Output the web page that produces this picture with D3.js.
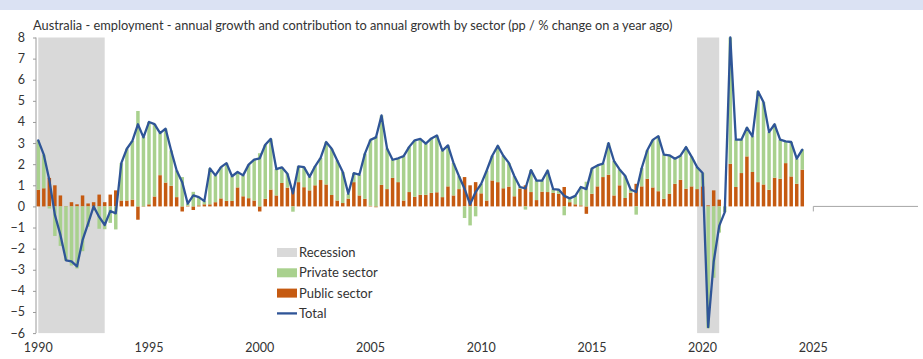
<!DOCTYPE html>
<html>
<head>
<meta charset="utf-8">
<script src="https://cdn.jsdelivr.net/npm/d3@7"></script>
<style>
  html, body { margin: 0; padding: 0; background: #ffffff; }
  svg { display: block; font-family: Lato, "Open Sans", sans-serif; }
</style>
</head>
<body>
<svg id="chart" width="923" height="359"></svg>
<script>
// Quarterly series, starting 1990Q1 (annual growth / contribution, pp)
const firstYear = 1990;
const lastAxisYear = 2029;
const xTickYears = [1990, 1995, 2000, 2005, 2010, 2015, 2020, 2025];
const yTickValues = [-6, -5, -4, -3, -2, -1, 0, 1, 2, 3, 4, 5, 6, 7, 8];

const totalGrowth = [
  3.13, 2.45, 1.25, -0.40, -1.35, -2.55, -2.60, -2.84, -1.60, -0.82,
  0.00, -0.50, -0.88, -0.22, -0.33, 2.05, 2.73, 3.10, 3.89, 3.27,
  4.00, 3.90, 3.47, 3.68, 2.65, 1.70, 1.15, 0.13, 0.52, 0.44,
  0.25, 1.80, 1.47, 1.86, 2.05, 1.43, 1.63, 1.47, 1.98, 2.22,
  2.28, 2.92, 3.20, 1.77, 1.85, 1.55, 0.62, 1.90, 1.86, 1.40,
  1.90, 2.30, 3.05, 2.73, 2.18, 1.63, 0.60, 1.58, 1.50, 2.50,
  3.15, 3.27, 4.31, 2.74, 2.21, 2.28, 2.38, 2.82, 3.13, 3.20,
  2.97, 3.22, 3.36, 2.64, 2.89, 2.06, 1.43, 0.84, 0.10, 0.68,
  1.07, 1.70, 2.40, 2.87, 2.40, 2.06, 1.43, 0.92, 0.85, 1.72,
  1.22, 1.22, 1.70, 0.82, 0.80, 0.50, 0.38, 0.50, 0.92, 0.82,
  1.80, 1.94, 2.03, 3.00, 2.15, 1.75, 1.45, 0.80, 0.68, 1.82,
  2.66, 3.15, 3.33, 2.45, 2.42, 2.26, 2.40, 2.81, 2.36, 1.86,
  1.58, -5.72, -2.62, -0.92, -0.27, 8.00, 3.16, 3.16, 3.73, 3.32,
  5.45, 4.94, 3.52, 3.89, 3.16, 3.08, 3.05, 2.26, 2.69
];

const publicSector = [
  0.79, 0.86, 1.35, 1.00, 0.52, 0.02, 0.20, 0.10, 0.52, 0.14,
  0.20, 0.56, 0.20, 0.56, 0.76, 0.28, 0.28, 0.32, -0.63, -0.02,
  0.10, 0.47, 1.48, 1.13, 0.98, 0.44, -0.24, 0.03, -0.17, 0.05,
  0.10, 0.10, 0.20, 0.38, 0.26, 0.26, 0.90, 0.48, 0.39, 0.28,
  -0.24, 0.36, 0.80, 0.52, 1.11, 0.89, 0.87, 1.15, 0.91, 0.76,
  1.00, 1.25, 1.04, 0.54, 0.28, 0.16, 0.37, 1.15, 0.52, 0.36,
  0.03, -0.04, 1.02, 0.82, 1.35, 1.15, 0.28, 0.68, 0.46, 0.55,
  0.55, 0.64, 0.67, 0.44, 0.95, 0.52, 0.82, 1.39, 1.00, 1.15,
  0.62, 0.28, 1.23, 1.15, 0.86, 0.94, 0.48, 0.84, 1.00, 0.68,
  0.30, 0.70, 0.68, 0.64, 0.60, 0.92, 0.20, 0.10, 0.05, -0.35,
  0.60, 0.95, 1.39, 1.50, 0.52, 1.00, 0.40, 0.65, 1.07, 0.95,
  1.31, 0.90, 0.72, 0.36, 0.60, 1.07, 1.26, 0.84, 0.95, 0.82,
  0.95, 0.05, 0.76, 0.32, 0.00, 2.02, 0.92, 1.58, 2.37, 1.63,
  1.15, 1.04, 0.79, 1.36, 1.31, 2.05, 1.42, 1.07, 1.74
];

const privateSector = [
  2.34, 1.59, -0.10, -1.40, -1.87, -2.57, -2.80, -2.94, -2.12, -0.96,
  -0.20, -1.06, -1.08, -0.78, -1.09, 1.77, 2.45, 2.78, 4.52, 3.29,
  3.90, 3.43, 1.99, 2.55, 1.67, 1.26, 1.39, 0.10, 0.69, 0.39,
  0.15, 1.70, 1.27, 1.48, 1.79, 1.17, 0.73, 0.99, 1.59, 1.94,
  2.52, 2.56, 2.40, 1.25, 0.74, 0.66, -0.25, 0.75, 0.95, 0.64,
  0.90, 1.05, 2.01, 2.19, 1.90, 1.47, 0.23, 0.43, 0.98, 2.14,
  3.12, 3.31, 3.29, 1.92, 0.86, 1.13, 2.10, 2.14, 2.67, 2.65,
  2.42, 2.58, 2.69, 2.20, 1.94, 1.54, 0.61, -0.55, -0.90, -0.47,
  0.45, 1.42, 1.17, 1.72, 1.54, 1.12, 0.95, 0.08, -0.15, 1.04,
  0.92, 0.52, 1.02, 0.18, 0.20, -0.42, 0.18, 0.40, 0.87, 1.17,
  1.20, 0.99, 0.64, 1.50, 1.63, 0.75, 1.05, 0.15, -0.39, 0.87,
  1.35, 2.25, 2.61, 2.09, 1.82, 1.19, 1.14, 1.97, 1.41, 1.04,
  0.63, -5.77, -3.38, -1.24, -0.27, 5.98, 2.24, 1.58, 1.36, 1.69,
  4.30, 3.90, 2.73, 2.53, 1.85, 1.03, 1.63, 1.19, 0.95
];

// Shaded recession periods (drawn from first to last quarter)
const recessions = [["1990Q1", "1993Q1"], ["2019Q4", "2020Q4"]];

const titleText = "Australia - employment - annual growth and contribution to annual growth by sector (pp / % change on a year ago)";
const legendLabels = ["Recession", "Private sector", "Public sector", "Total"];

const colors = {
  recession: "#d9d9d9",
  private: "#a9d18e",
  public: "#c55a11",
  total: "#2f5597",
  text: "#333333",
  axis: "#9a9a9a"
};

// ---- category axis: every quarter 1990Q1 .. 2029Q4 ----
const quarters = [];
for (let yr = firstYear; yr <= lastAxisYear; yr++) {
  for (let q = 1; q <= 4; q++) quarters.push(yr + "Q" + q);
}

const rows = totalGrowth.map((t, i) => ({
  q: quarters[i],
  total: t,
  public: publicSector[i],
  private: privateSector[i]
}));

const svg = d3.select("#chart");
const W = 923, H = 359;

const x = d3.scaleBand().domain(quarters).range([35.5, 921.3]).padding(0);
const xc = q => x(q) + x.bandwidth() / 2;
const y = d3.scaleLinear().domain([-6, 8]).range([333.1, 37.5]);

// header strip
svg.append("rect").attr("x", 0).attr("y", 0).attr("width", W).attr("height", 10)
  .attr("fill", "#dbe2f3");

// title, fitted to its line width
const title = svg.append("text")
  .attr("x", 33).attr("y", 30)
  .attr("fill", colors.text)
  .attr("font-size", 13)
  .text(titleText);
const tw = title.node().getComputedTextLength();
title.attr("font-size", (13 * 640 / tw).toFixed(2));

// recession shading
svg.append("g").selectAll("rect").data(recessions).join("rect")
  .attr("x", d => xc(d[0]))
  .attr("width", d => xc(d[1]) - xc(d[0]))
  .attr("y", y(8))
  .attr("height", y(-6) - y(8))
  .attr("fill", colors.recession);

// zero line beyond the data
const zeroStart = xc("2025Q1");
svg.append("line")
  .attr("x1", zeroStart).attr("x2", 918)
  .attr("y1", y(0)).attr("y2", y(0))
  .attr("stroke", "#a6a6a6").attr("stroke-width", 1);
svg.append("line")
  .attr("x1", zeroStart).attr("x2", zeroStart)
  .attr("y1", y(0)).attr("y2", y(0) + 5)
  .attr("stroke", "#a6a6a6").attr("stroke-width", 1);

// stacked contributions
const stack = d3.stack().keys(["public", "private"]).offset(d3.stackOffsetDiverging);
const series = stack(rows);
const barW = x.bandwidth() * 0.63;

svg.append("g").selectAll("g").data(series).join("g")
  .attr("fill", d => colors[d.key])
  .selectAll("rect").data(d => d).join("rect")
  .attr("x", d => xc(d.data.q) - barW / 2)
  .attr("width", barW)
  .attr("y", d => y(Math.max(d[0], d[1])))
  .attr("height", d => Math.abs(y(d[0]) - y(d[1])));

// total growth line
const line = d3.line().x(d => xc(d.q)).y(d => y(d.total));
svg.append("path").datum(rows)
  .attr("d", line)
  .attr("fill", "none")
  .attr("stroke", colors.total)
  .attr("stroke-width", 2.3)
  .attr("stroke-linejoin", "round")
  .attr("stroke-linecap", "round");

// y axis
const yAxis = d3.axisLeft(y).tickValues(yTickValues).tickSize(3).tickPadding(8)
  .tickFormat(d3.format("d"));
const gy = svg.append("g").attr("transform", "translate(36,0)").call(yAxis);
gy.select(".domain").attr("stroke", colors.axis).attr("d", `M0,${y(8)}V${y(-6)}`);
gy.selectAll(".tick line").attr("stroke", colors.axis);
gy.selectAll(".tick text").attr("fill", colors.text)
  .attr("font-size", 12.5).attr("font-family", "Lato, 'Open Sans', sans-serif");

// x labels along the bottom
const xAxis = d3.axisBottom(x).tickValues(xTickYears.map(v => v + "Q1"))
  .tickSize(0).tickPadding(0).tickFormat(q => q.slice(0, 4));
const gx = svg.append("g").attr("transform", "translate(0,343)").call(xAxis);
gx.select(".domain").remove();
gx.selectAll(".tick text").attr("fill", colors.text)
  .attr("font-size", 12.5).attr("font-family", "Lato, 'Open Sans', sans-serif");

// legend
const lg = svg.append("g").attr("transform", "translate(277,252.5)");
const rowH = 20.3;
legendLabels.forEach((label, i) => {
  const g = lg.append("g").attr("transform", `translate(0,${i * rowH})`);
  if (i < 3) {
    g.append("rect").attr("x", 0).attr("y", -4.5).attr("width", 20).attr("height", 9)
      .attr("fill", [colors.recession, colors.private, colors.public][i]);
  } else {
    g.append("line").attr("x1", 0).attr("x2", 20).attr("y1", 0).attr("y2", 0)
      .attr("stroke", colors.total).attr("stroke-width", 2.3);
  }
  g.append("text").attr("x", 22).attr("y", 0).attr("dy", "0.35em")
    .attr("fill", colors.text).attr("font-size", 13).text(label);
});
</script>
</body>
</html>
